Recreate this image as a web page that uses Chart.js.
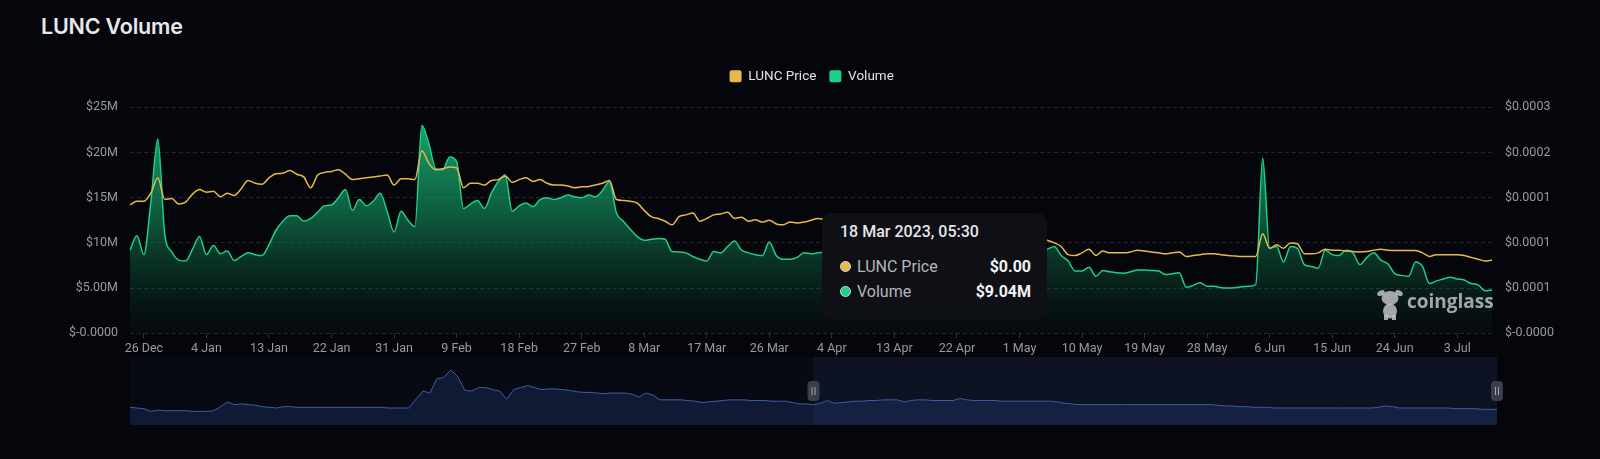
<!DOCTYPE html>
<html>
<head>
<meta charset="utf-8">
<title>LUNC Volume</title>
<script src="https://cdn.jsdelivr.net/npm/chart.js@4.4.1/dist/chart.umd.min.js"></script>
<style>
  html, body { margin: 0; padding: 0; background: #05060b; }
  #wrap { position: relative; width: 1600px; height: 459px; overflow: hidden; }
  #title {
    position: absolute; left: 41px; top: 15px;
    font: 600 21.5px/22px Inter, sans-serif; color: #e8e9ec; letter-spacing: -0.2px;
  }
  #main { position: absolute; left: 0; top: 0; }
  #mini { position: absolute; left: 0; top: 357px; }
  #tip {
    position: absolute; left: 822px; top: 213px; width: 225px; height: 106px;
    box-sizing: border-box; padding: 10px 16px 0 18px;
    background: #0f1015; border-radius: 9px; opacity: 0;
    font-family: Roboto, sans-serif; pointer-events: none;
  }
  #tip .t { font-size: 16px; font-weight: 500; color: #e6e7ea; line-height: 18px; margin-bottom: 13px; }
  #tip .r { display: flex; align-items: center; height: 25px; font-size: 16px; }
  #tip .d { width: 9px; height: 9px; border-radius: 50%; border: 1.5px solid #d8d9dc; margin-right: 6px; }
  #tip .l { color: #b4b6bc; flex: 1; }
  #tip .v { color: #f2f3f5; font-weight: 700; }
</style>
</head>
<body>
<div id="wrap">
  <div id="title">LUNC Volume</div>
  <canvas id="main" width="1600" height="459"></canvas>
  <canvas id="mini" width="1600" height="68"></canvas>
  <div id="tip"></div>
</div>
<script>
// ── Data (one value per day, 24 Dec 2022 → 8 Jul 2023) ─────────────
const startDay = Date.UTC(2022, 11, 24);

// Volume, $M
const volumeM = [
  9.2, 10.8, 8.7, 14.5, 21.5, 11.0, 9.0, 8.1, 8.0, 9.3,
  10.7, 8.7, 9.7, 8.8, 9.1, 8.05, 8.5, 8.9, 8.7, 8.6,
  9.8, 11.4, 12.4, 13.0, 13.0, 12.4, 12.7, 13.4, 14.1, 14.2,
  15.0, 15.9, 13.6, 14.8, 14.1, 14.6, 15.5, 13.5, 11.2, 13.5,
  12.5, 11.8, 23.0, 21.0, 18.2, 18.1, 19.5, 19.0, 13.8, 14.3,
  14.7, 13.8, 15.5, 16.8, 17.5, 13.5, 14.1, 14.4, 14.0, 14.8,
  15.0, 14.8, 15.0, 15.3, 15.1, 15.0, 15.3, 15.1, 15.8, 16.8,
  13.3, 12.4, 11.5, 10.7, 10.3, 10.4, 10.5, 10.4, 9.05, 9.0,
  8.9, 8.5, 8.2, 8.0, 9.04, 8.9, 9.6, 10.2, 9.2, 8.9,
  8.7, 8.6, 10.1, 8.6, 8.2, 8.2, 8.4, 8.9, 8.8, 8.9,
  9.0, 9.3, 8.8, 8.6, 9.1, 9.5, 9.0, 8.7, 8.9, 9.4,
  9.8, 9.2, 8.8, 8.5, 8.9, 9.6, 10.4, 9.7, 9.1, 8.8,
  9.0, 9.3, 9.0, 8.7, 8.5, 8.8, 9.2, 9.5, 9.1, 8.8,
  9.0, 9.2, 9.3, 9.6, 8.6, 8.0, 6.9, 6.9, 7.3, 6.3,
  6.95, 6.8, 6.7, 6.65, 6.8, 7.0, 7.0, 6.95, 6.9, 6.5,
  6.6, 6.7, 5.1, 5.3, 5.6, 5.2, 5.2, 5.05, 5.0, 5.05,
  5.15, 5.2, 5.4, 19.4, 9.4, 9.6, 7.9, 9.6, 9.4, 7.6,
  7.4, 7.2, 9.2, 8.7, 8.6, 9.2, 8.9, 7.6, 8.4, 8.9,
  8.1, 7.7, 6.6, 6.4, 6.3, 7.9, 7.4, 5.5, 5.8, 6.0,
  6.2, 6.0, 5.9, 5.5, 5.35, 4.7, 4.8
];

// LUNC price, in units of 1e-5 USD
const priceE5 = [
  14.2, 14.6, 14.6, 15.5, 17.2, 14.8, 14.9, 14.3, 14.5, 15.4,
  15.9, 15.6, 15.7, 15.1, 15.5, 15.25, 16.0, 16.9, 16.6, 16.5,
  17.2, 17.65, 17.7, 18.0, 17.6, 17.3, 16.1, 17.5, 17.8, 17.9,
  18.1, 17.6, 17.0, 17.1, 17.2, 17.3, 17.4, 17.5, 16.4, 17.1,
  17.1, 17.0, 20.2, 18.8, 18.1, 18.2, 18.4, 18.3, 16.1, 16.6,
  16.6, 16.4, 16.9, 17.0, 17.4, 16.7, 17.0, 17.2, 16.8, 17.0,
  16.6, 16.4, 16.4, 16.3, 16.1, 16.2, 16.25, 16.4, 16.6, 16.9,
  14.8, 14.7, 14.6, 14.4, 13.6, 12.9, 12.7, 12.4, 12.0, 12.9,
  13.1, 13.3, 12.4, 12.7, 13.1, 13.2, 13.4, 12.7, 12.85, 12.4,
  12.55, 12.3, 12.5, 12.1, 12.0, 12.3, 12.2, 12.3, 12.5, 12.7,
  12.6, 12.5, 12.4, 12.6, 12.3, 12.2, 12.4, 12.1, 12.0, 12.2,
  12.3, 11.9, 11.8, 12.0, 11.7, 11.6, 11.8, 11.5, 11.4, 11.6,
  11.3, 11.2, 11.4, 11.1, 11.0, 11.2, 10.9, 10.8, 11.0, 10.7,
  10.6, 10.4, 10.3, 10.0, 9.6, 8.7, 8.6, 8.9, 9.3, 8.6,
  9.1, 8.9, 8.9, 8.9, 9.0, 9.2, 9.1, 9.0, 8.9, 8.8,
  8.9, 9.0, 8.5, 8.6, 8.7, 8.8, 8.8, 8.7, 8.6, 8.55,
  8.5, 8.5, 8.5, 11.0, 9.4, 9.8, 9.4, 10.0, 9.9, 8.8,
  8.8, 8.9, 9.3, 9.2, 9.2, 9.1, 9.05, 9.0, 9.05, 9.2,
  9.3, 9.2, 9.15, 9.15, 9.15, 9.15, 8.9, 8.5, 8.7, 8.7,
  8.7, 8.7, 8.6, 8.4, 8.2, 8.0, 8.1
];

// Overview series in the zoom slider, % of slider height
const miniSeries = [
  26, 25, 24, 20, 22, 21, 21, 21, 21, 20,
  20, 20, 21, 27, 34, 30, 31, 30, 29, 27,
  26, 25, 27, 27, 26, 26, 26, 26, 26, 26,
  26, 26, 26, 26, 26, 26, 26, 25, 25, 25,
  25, 38, 50, 47, 68, 70, 81, 71, 51, 50,
  55, 55, 52, 50, 38, 52, 55, 58, 55, 52,
  53, 53, 52, 51, 49, 48, 48, 47, 46, 47,
  47, 47, 45, 41, 47, 44, 37, 37, 37, 37,
  36, 35, 33, 34, 35, 36, 37, 37, 37, 36,
  36, 36, 35, 35, 35, 33, 31, 31, 30, 32,
  36, 32, 33, 34, 35, 35, 36, 36, 37, 37,
  37, 34, 36, 37, 37, 36, 36, 36, 36, 39,
  37, 36, 36, 36, 36, 35, 35, 35, 35, 35,
  35, 35, 35, 34, 32, 31, 30, 30, 30, 30,
  30, 30, 30, 30, 30, 30, 30, 30, 30, 30,
  30, 30, 30, 30, 30, 30, 29, 28, 28, 27,
  27, 26, 26, 26, 25, 25, 25, 25, 25, 25,
  25, 25, 25, 25, 25, 25, 25, 25, 25, 26,
  28, 27, 25, 25, 25, 25, 25, 25, 25, 25,
  24, 24, 24, 24, 23, 23, 23
];

const tickLabels = [
  '26 Dec', '4 Jan', '13 Jan', '22 Jan', '31 Jan', '9 Feb', '18 Feb', '27 Feb',
  '8 Mar', '17 Mar', '26 Mar', '4 Apr', '13 Apr', '22 Apr', '1 May', '10 May',
  '19 May', '28 May', '6 Jun', '15 Jun', '24 Jun', '3 Jul'
];
const leftTickLabels  = ['$-0.0000', '$5.00M', '$10M', '$15M', '$20M', '$25M'];
const rightTickLabels = ['$-0.0000', '$0.0001', '$0.0001', '$0.0001', '$0.0002', '$0.0003'];

const hoverIndex = 84;       // 18 Mar
const hoverTime = '05:30';
const zoomStart = 50;        // slider selection, %
const zoomEnd = 100;

// ── Helpers ───────────────────────────────────────────────────
const MONTHS = ['Jan', 'Feb', 'Mar', 'Apr', 'May', 'Jun', 'Jul', 'Aug', 'Sep', 'Oct', 'Nov', 'Dec'];
const dayLabels = volumeM.map((_, i) => {
  const d = new Date(startDay + i * 86400000);
  return d.getUTCDate() + ' ' + MONTHS[d.getUTCMonth()];
});

const COLORS = { price: '#e8b94a', volume: '#1ccf8a', tick: '#979aa1', grid: 'rgba(255,255,255,0.13)' };

const fmtPrice  = v => '$' + (v * 1e-5).toFixed(2);
const fmtVolume = v => '$' + v.toFixed(2) + 'M';

// Legend box height is fixed so the plot starts where the reference does
const legendSpacer = {
  id: 'legendSpacer',
  afterInit(chart) {
    const fit = chart.legend.fit;
    chart.legend.fit = function () { fit.call(this); this.height = 50.8; };
  },
};

const watermark = {
  id: 'watermark',
  afterDatasetsDraw(chart) {
    const c = chart.ctx;
    c.save();
    c.fillStyle = 'rgba(190,193,198,0.85)';
    // mascot
    c.beginPath(); c.ellipse(1390, 298, 8.5, 7, 0, 0, Math.PI * 2); c.fill();
    c.beginPath(); c.ellipse(1390, 311, 7, 7.5, 0, 0, Math.PI * 2); c.fill();
    c.beginPath(); c.ellipse(1381, 293, 4, 2.5, -0.5, 0, Math.PI * 2); c.fill();
    c.beginPath(); c.ellipse(1399, 293, 4, 2.5, 0.5, 0, Math.PI * 2); c.fill();
    c.fillRect(1384, 315, 4, 5); c.fillRect(1392, 315, 4, 5);
    // word mark
    c.font = '700 19px "Open Sans", sans-serif';
    c.textBaseline = 'middle';
    c.fillText('coinglass', 1407, 303);
    c.restore();
  },
};

function externalTip({ tooltip }) {
  const el = document.getElementById('tip');
  if (tooltip.opacity === 0) { el.style.opacity = 0; return; }
  const rows = tooltip.dataPoints.slice().sort((a, b) => a.datasetIndex - b.datasetIndex).map(p => {
    const color = p.datasetIndex === 0 ? COLORS.price : COLORS.volume;
    const val = p.datasetIndex === 0 ? fmtPrice(p.raw) : fmtVolume(p.raw);
    return `<div class="r"><span class="d" style="background:${color}"></span>` +
           `<span class="l">${p.dataset.label}</span><span class="v">${val}</span></div>`;
  }).join('');
  el.innerHTML = `<div class="t">${tooltip.title.join('')}</div>${rows}`;
  el.style.opacity = 1;
}

// ── Main chart ────────────────────────────────────────────────
const mainChart = new Chart(document.getElementById('main'), {
  type: 'line',
  data: {
    labels: dayLabels,
    datasets: [
      {
        label: 'LUNC Price',
        data: priceE5,
        yAxisID: 'y1',
        borderColor: COLORS.price,
        borderWidth: 1.5,
        pointRadius: 0,
        cubicInterpolationMode: 'monotone',
        fill: false,
      },
      {
        label: 'Volume',
        data: volumeM,
        yAxisID: 'y',
        borderColor: COLORS.volume,
        borderWidth: 1.5,
        pointRadius: 0,
        cubicInterpolationMode: 'monotone',
        fill: 'origin',
        backgroundColor: ctx => {
          const area = ctx.chart.chartArea;
          if (!area) return 'rgba(0,0,0,0)';
          const g = ctx.chart.ctx.createLinearGradient(0, area.top, 0, area.bottom);
          g.addColorStop(0, 'rgba(26,196,128,0.92)');
          g.addColorStop(0.5, 'rgba(22,160,104,0.52)');
          g.addColorStop(1, 'rgba(14,70,48,0.08)');
          return g;
        },
      },
    ],
  },
  options: {
    responsive: false,
    animation: false,
    layout: { padding: { left: 23.4, right: 0, top: 56.5, bottom: 99.7 } },
    interaction: { mode: 'index', intersect: false },
    events: [],
    scales: {
      x: {
        offset: false,
        grid: { display: true, drawOnChartArea: false, drawTicks: true, tickLength: 5, color: 'rgba(255,255,255,0.16)' },
        border: { display: false },
        ticks: { autoSkip: false, maxRotation: 0, padding: 3, color: COLORS.tick, font: { family: 'Roboto', size: 12.5 } },
        afterBuildTicks: axis => { axis.ticks = axis.ticks.filter(t => tickLabels.includes(dayLabels[t.value])); },
        afterFit: axis => { axis.height = 26; },
      },
      y: {
        position: 'left',
        min: 0, max: 25,
        grid: { color: COLORS.grid, drawTicks: false },
        border: { display: false, dash: [4, 3] },
        ticks: { stepSize: 5, padding: 12, color: COLORS.tick, font: { family: 'Roboto', size: 12.5 },
                 callback: (v, i) => leftTickLabels[i] },
        afterFit: axis => { axis.width = 106.6; },
      },
      y1: {
        position: 'right',
        min: 0, max: 25,
        grid: { display: false, drawTicks: false },
        border: { display: false },
        ticks: { stepSize: 5, padding: 13, color: COLORS.tick, font: { family: 'Roboto', size: 12.5 },
                 callback: (v, i) => rightTickLabels[i] },
        afterFit: axis => { axis.width = 108; },
      },
    },
    plugins: {
      legend: {
        position: 'top',
        labels: {
          boxWidth: 12, boxHeight: 12, padding: 13,
          useBorderRadius: true, borderRadius: 2,
          color: '#e3e4e8', font: { family: 'Roboto', size: 13.5 },
          generateLabels: chart => chart.data.datasets.map((ds, i) => ({
            text: ds.label, datasetIndex: i, hidden: false, lineWidth: 0,
            fillStyle: i === 0 ? COLORS.price : COLORS.volume,
            strokeStyle: i === 0 ? COLORS.price : COLORS.volume,
            fontColor: '#e3e4e8', borderRadius: 2,
          })),
        },
      },
      tooltip: {
        enabled: false,
        external: externalTip,
        callbacks: { title: items => `${items[0].label} 2023, ${hoverTime}` },
      },
    },
  },
  plugins: [legendSpacer, watermark],
});

mainChart.tooltip.setActiveElements(
  [{ datasetIndex: 0, index: hoverIndex }, { datasetIndex: 1, index: hoverIndex }],
  { x: 0, y: 0 }
);
mainChart.update();

// ── Zoom slider (overview) ────────────────────────────────────
const sliderDeco = {
  id: 'sliderDeco',
  beforeDatasetsDraw(chart) {
    const { ctx, chartArea: a } = chart;
    ctx.save();
    ctx.fillStyle = '#070a12';
    ctx.fillRect(a.left, a.top, a.right - a.left, a.bottom - a.top);
    ctx.restore();
  },
  afterDatasetsDraw(chart) {
    const { ctx, chartArea: a } = chart;
    const w = a.right - a.left;
    const x0 = a.left + w * zoomStart / 100;
    const x1 = a.left + w * zoomEnd / 100;
    ctx.save();
    ctx.fillStyle = 'rgba(50,75,140,0.14)';
    ctx.fillRect(x0, a.top, x1 - x0, a.bottom - a.top);
    [x0, x1].forEach(x => {
      const cy = 34;
      ctx.fillStyle = '#3a3e49';
      ctx.beginPath();
      ctx.roundRect(x - 6, cy - 10, 12, 20, 4);
      ctx.fill();
      ctx.strokeStyle = '#a2a6ae';
      ctx.lineWidth = 1;
      ctx.beginPath();
      ctx.moveTo(x - 1.5, cy - 4); ctx.lineTo(x - 1.5, cy + 4);
      ctx.moveTo(x + 1.5, cy - 4); ctx.lineTo(x + 1.5, cy + 4);
      ctx.stroke();
    });
    ctx.restore();
  },
};

new Chart(document.getElementById('mini'), {
  type: 'line',
  data: {
    labels: dayLabels,
    datasets: [{
      data: miniSeries,
      borderColor: '#3d5ea8',
      borderWidth: 1,
      pointRadius: 0,
      tension: 0,
      fill: 'origin',
      backgroundColor: 'rgba(30,50,100,0.42)',
    }],
  },
  options: {
    responsive: false,
    animation: false,
    events: [],
    layout: { padding: { left: 130, right: 103, top: 0, bottom: 0 } },
    scales: {
      x: { display: false, offset: false },
      y: { display: false, min: 0, max: 100 },
    },
    plugins: { legend: { display: false }, tooltip: { enabled: false } },
  },
  plugins: [sliderDeco],
});
</script>
</body>
</html>
